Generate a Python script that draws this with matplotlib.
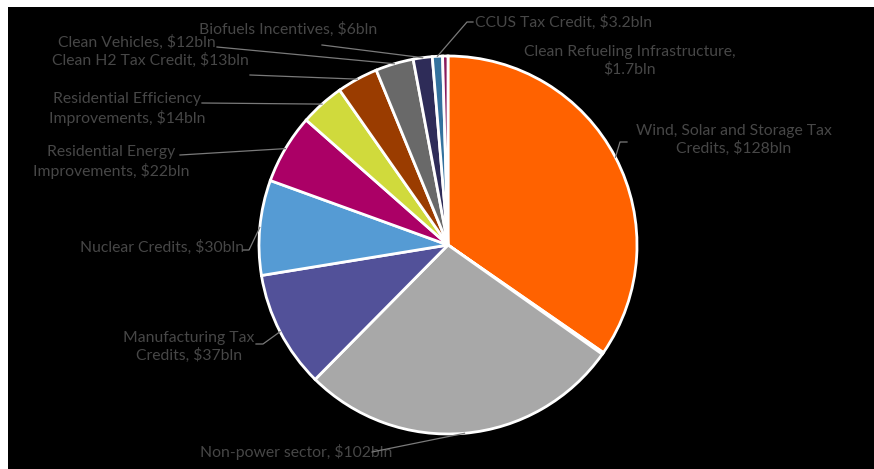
import numpy as np
import matplotlib
matplotlib.use('Agg')
import matplotlib.pyplot as plt
from matplotlib.patches import Rectangle

# IRA climate spending by category ($bln), clockwise from 12 o'clock
categories = ['Wind, Solar and Storage Tax Credits', 'Other', 'Non-power sector',
              'Manufacturing Tax Credits', 'Nuclear Credits', 'Residential Energy Improvements',
              'Residential Efficiency Improvements', 'Clean H2 Tax Credit', 'Clean Vehicles',
              'Biofuels Incentives', 'CCUS Tax Credit', 'Clean Refueling Infrastructure']
values = [128, 0.6, 102, 37, 30, 22, 14, 13, 12, 6, 3.2, 1.7]
labels = ['Wind, Solar and Storage Tax\nCredits, $128bln', '', 'Non-power sector, $102bln',
          'Manufacturing Tax\nCredits, $37bln', 'Nuclear Credits, $30bln',
          'Residential Energy\nImprovements, $22bln', 'Residential Efficiency\nImprovements, $14bln',
          'Clean H2 Tax Credit, $13bln', 'Clean Vehicles, $12bln', 'Biofuels Incentives, $6bln',
          'CCUS Tax Credit, $3.2bln', 'Clean Refueling Infrastructure,\n$1.7bln']
colors = ['#FF6200', '#4a4a4a', '#A8A8A8', '#525199', '#559BD4', '#AB0066',
          '#D0DA3C', '#9A3C00', '#696969', '#2E2C58', '#34729E', '#8A1B5C']

W, H = 874, 469
CX, CY, R = 448, 245, 189
TXT = '#474747'

# label layout in pixel coords (y from top): text centre, leader start, optional elbow
label_pos = [(734, 140), None, (296, 452), (189, 347), (162, 247), (111, 162), (127, 109),
             (150, 60), (137, 42), (288, 29), (564, 22), (630, 61)]
leader_start = [(627, 142), None, (372, 452), (256, 344), (243, 250), (180, 155), (202, 103),
                (250, 75), (217, 47), (322, 45), (473, 22), None]
leader_elbow = [(620, 142), None, None, (263, 344), (249, 250), None, None,
                None, None, None, (467, 22), None]

plt.rcParams['font.family'] = ['Lato', 'DejaVu Sans']
fig = plt.figure(figsize=(W / 100, H / 100), dpi=100)
fig.patch.set_facecolor('white')

ax = fig.add_axes([0, 0, 1, 1])
ax.set_facecolor('none')
ax.add_patch(Rectangle((8, 0), W - 8, H - 7, facecolor='black', edgecolor='none', zorder=0))
wedges, _ = ax.pie(values, colors=colors, startangle=90, counterclock=False,
                   center=(CX, H - CY), radius=R,
                   wedgeprops=dict(edgecolor='white', linewidth=2, zorder=2))
ax.set_xlim(0, W)
ax.set_ylim(0, H)
ax.set_aspect('equal')
ax.axis('off')

for w, lab, pos, start, elbow in zip(wedges, labels, label_pos, leader_start, leader_elbow):
    if not lab:
        continue
    ax.text(pos[0], H - pos[1], lab, ha='center', va='center', color=TXT,
            fontsize=11.3, linespacing=1.25, zorder=4)
    if start is None:
        continue
    mid = np.deg2rad((w.theta1 + w.theta2) / 2)
    end = (CX + R * np.cos(mid), H - CY + R * np.sin(mid))
    pts = [start] + ([elbow] if elbow else [])
    xs = [p[0] for p in pts] + [end[0]]
    ys = [H - p[1] for p in pts] + [end[1]]
    ax.plot(xs, ys, color='#7a7a7a', lw=0.9, zorder=5)

fig.savefig('out.png', dpi=100, facecolor=fig.get_facecolor())
